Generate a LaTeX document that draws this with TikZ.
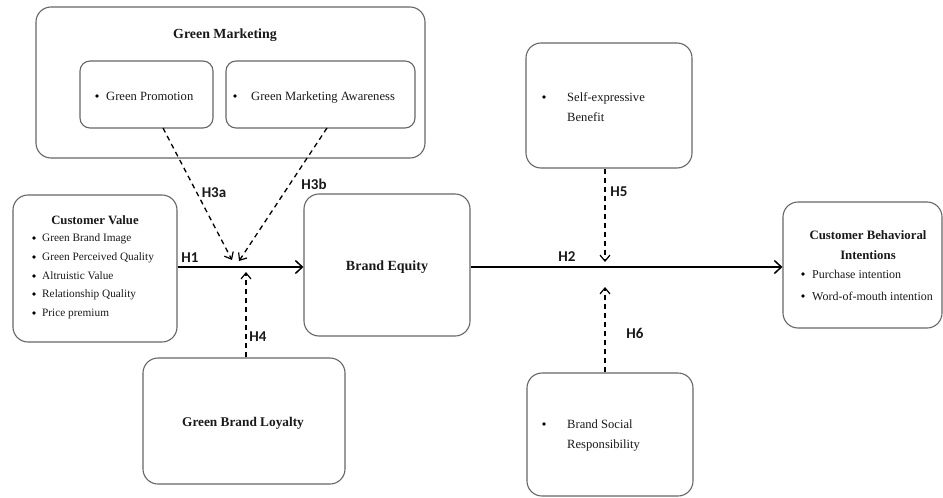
\documentclass[tikz,border=0pt]{standalone}
\usepackage{fontspec}
\setmainfont{Liberation Serif}
\newfontfamily\hfont{Carlito}
\usetikzlibrary{arrows.meta}
\begin{document}
\begin{tikzpicture}[x=1pt,y=-1pt,
  box/.style={draw=black!60, line width=1.1pt, rounded corners=15pt, inner sep=0pt},
  ibox/.style={draw=black!60, line width=1.1pt, rounded corners=10pt, inner sep=0pt},
  ttl/.style={font=\fontsize{13.5}{16}\selectfont\bfseries, inner sep=0pt, text=black!90},
  txt/.style={font=\fontsize{12.6}{15}\selectfont, inner sep=0pt, anchor=west, text height=8.5pt, text depth=2.5pt, text=black!90},
  stxt/.style={font=\fontsize{11.3}{14}\selectfont, inner sep=0pt, anchor=west, text height=7.5pt, text depth=2.2pt, text=black!90},
  blt/.style={circle, fill=black, inner sep=0pt, minimum size=3.6pt},
  hyp/.style={font=\hfont\fontsize{15}{18}\selectfont\bfseries, inner sep=0pt, text=black!90},
  main/.style={line width=1.7pt, -{Straight Barb[length=7pt,width=13pt,line width=1.5pt]}},
  mod/.style={line width=1.3pt, dash pattern=on 5pt off 4pt, -{Straight Barb[length=6pt,width=10pt,line width=1.2pt]}}
]
\useasboundingbox (0,0) rectangle (943,498);

% boxes
\node[box, minimum width=389pt, minimum height=151pt] (gm) at (230.5,82.5) {};
\node[ibox, minimum width=133pt, minimum height=67pt] (gp) at (146.5,94.5) {};
\node[ibox, minimum width=189pt, minimum height=67pt] (gma) at (320.5,94.5) {};
\node[box, minimum width=164pt, minimum height=147pt] (cv) at (95,268.5) {};
\node[box, minimum width=166pt, minimum height=142pt] (be) at (387,265) {};
\node[box, minimum width=202pt, minimum height=126pt] (gbl) at (244,421) {};
\node[box, minimum width=166pt, minimum height=125pt] (seb) at (609,105.5) {};
\node[box, minimum width=166pt, minimum height=123pt] (bsr) at (610,434.5) {};
\node[box, minimum width=159pt, minimum height=126pt] (cbi) at (862.5,265) {};

% texts
\node[ttl, font=\fontsize{13.9}{16}\selectfont\bfseries] (gmt) at (225,35) {Green Marketing};
\node[blt] (gpb) at (97,96) {};
\node[txt] (gpt) at (106,97) {Green Promotion};
\node[blt] (gmab) at (235,96) {};
\node[txt] (gmat) at (251,97) {Green Marketing Awareness};

\node[ttl, font=\fontsize{12.7}{15}\selectfont\bfseries] (cvt) at (95,220) {Customer Value};
\node[blt] (cvb1) at (34,238) {};
\node[stxt] (cvt1) at (42,239) {Green Brand Image};
\node[blt] (cvb2) at (34,257) {};
\node[stxt] (cvt2) at (42,258) {Green Perceived Quality};
\node[blt] (cvb3) at (34,276) {};
\node[stxt] (cvt3) at (42,277) {Altruistic Value};
\node[blt] (cvb4) at (34,294) {};
\node[stxt] (cvt4) at (42,295) {Relationship Quality};
\node[blt] (cvb5) at (34,313) {};
\node[stxt] (cvt5) at (42,314) {Price premium};

\node[ttl, font=\fontsize{14}{16}\selectfont\bfseries] (bet) at (387,267) {Brand Equity};
\node[ttl, font=\fontsize{13.3}{16}\selectfont\bfseries] (gblt) at (243,423) {Green Brand Loyalty};

\node[blt] (sebb) at (544,97) {};
\node[txt] (sebt1) at (567,98) {Self-expressive};
\node[txt] (sebt2) at (567,118) {Benefit};
\node[blt] (bsrb) at (544,424) {};
\node[txt] (bsrt1) at (567,425) {Brand Social};
\node[txt] (bsrt2) at (567,445) {Responsibility};

\node[ttl, font=\fontsize{12.8}{15}\selectfont\bfseries] (cbit1) at (868,235) {Customer Behavioral};
\node[ttl, font=\fontsize{12.8}{15}\selectfont\bfseries] (cbit2) at (868,255) {Intentions};
\node[blt] (cbib1) at (803,274) {};
\node[txt, font=\fontsize{12}{15}\selectfont] (cbi1) at (812,275) {Purchase intention};
\node[blt] (cbib2) at (803,296) {};
\node[txt, font=\fontsize{12}{15}\selectfont] (cbi2) at (812,297) {Word-of-mouth intention};

% hypothesis labels
\node[hyp] (h1) at (190,258) {H1};
\node[hyp] (h2) at (567,257) {H2};
\node[hyp] (h3a) at (214,193) {H3a};
\node[hyp] (h3b) at (314,184) {H3b};
\node[hyp] (h4) at (258,337) {H4};
\node[hyp] (h5) at (619,192) {H5};
\node[hyp] (h6) at (635,333) {H6};

% connector points
\coordinate (j1) at (246,267);
\coordinate (j2) at (605,267);
\coordinate (a3a) at (163,128);
\coordinate (t3a) at (232,260);
\coordinate (a3b) at (327,128);
\coordinate (t3b) at (239,261);
\coordinate (t4) at (246,272);
\coordinate (t5) at (605,262);
\coordinate (t6) at (605,287);

% main paths
\draw[main] (cv.east |- j1) -- (be.west |- j1);
\draw[main] (be.east |- j2) -- (cbi.west |- j2);

% moderating paths
\draw[mod] (a3a) -- (t3a);
\draw[mod] (a3b) -- (t3b);
\draw[mod] (gbl.north -| t4) -- (t4);
\draw[mod] (seb.south -| t5) -- (t5);
\draw[mod] (bsr.north -| t6) -- (t6);
\end{tikzpicture}
\end{document}
